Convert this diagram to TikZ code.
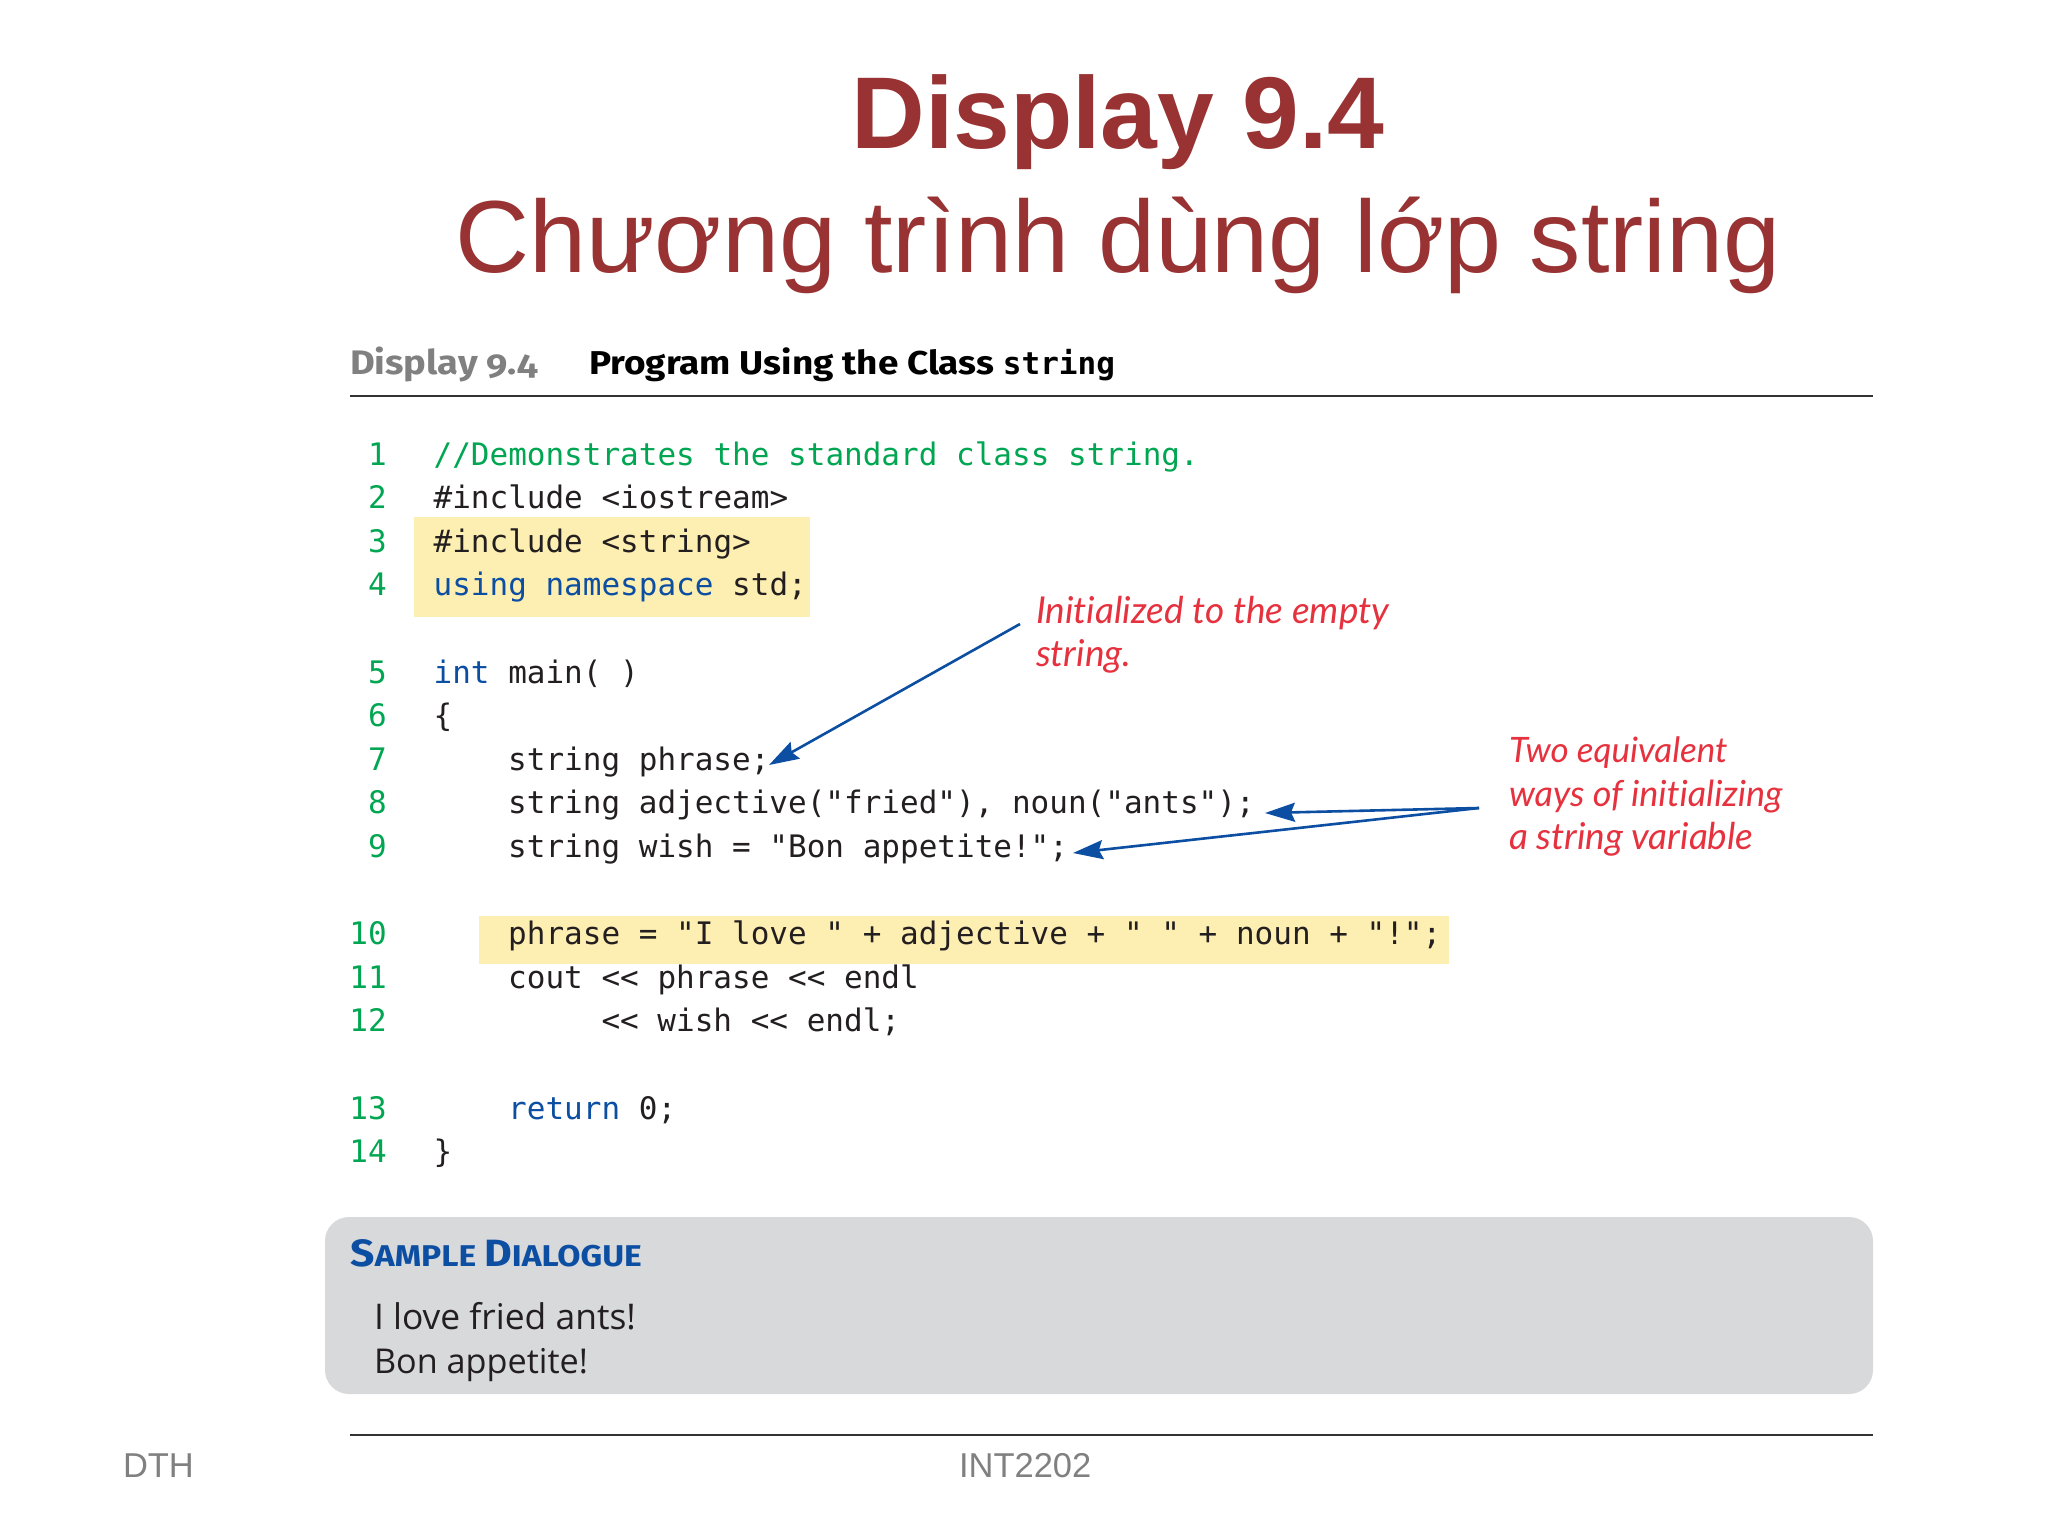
\documentclass[tikz,border=0pt]{standalone}
\usepackage{fontspec}
\usetikzlibrary{arrows.meta}
\setmainfont{Liberation Sans}
\newfontfamily\codef{DejaVu Sans Mono}
\newfontfamily\headf[FakeStretch=1.12,Numbers=OldStyle]{Fira Sans}
\newfontfamily\dlgf{Open Sans}
\newfontfamily\notef[Ligatures=NoCommon]{Lato}
\definecolor{titlered}{HTML}{993333}
\definecolor{grn}{HTML}{00A651}
\definecolor{kwblue}{HTML}{0B4EA2}
\definecolor{hl}{HTML}{FDEEB2}
\definecolor{notered}{HTML}{E5323E}
\definecolor{boxgray}{HTML}{D8D9DB}
\definecolor{codeblk}{HTML}{231F20}
\newcommand{\kw}[1]{\textcolor{kwblue}{#1}}
\tikzset{
  txt/.style={anchor=base west,inner sep=0pt,outer sep=0pt,text depth=0pt},
  title1/.style={anchor=base,inner sep=0pt,text=titlered,font=\fontsize{102}{102}\selectfont\bfseries},
  title2/.style={anchor=base,inner sep=0pt,text=titlered,font=\fontsize{102.5}{102.5}\selectfont},
  code/.style={txt,text=codeblk,font=\codef\fontsize{31}{31}\selectfont},
  num/.style={anchor=base east,inner sep=0pt,text=grn,font=\codef\fontsize{31}{31}\selectfont},
  note/.style={txt,text=notered,font=\notef\itshape\fontsize{#1}{#1}\selectfont},
  rulel/.style={draw=black!80,line width=2.7pt},
  arr/.style={draw=kwblue,line width=2.6pt,-{Stealth[length=30pt,width=19pt,inset=4pt]}},
  dlg/.style={txt,text=codeblk,font=\dlgf\fontsize{#1}{#1}\selectfont},
  foot/.style={txt,text=black!50,font=\fontsize{34.5}{34.5}\selectfont},
}
\begin{document}
\begin{tikzpicture}[x=1pt,y=-1pt]
\useasboundingbox (0,0) rectangle (2048,1536);
\fill[white] (0,0) rectangle (2048,1536);
\node[title1] (t1) at (1118,149) {Display 9.4};
\node[title2] (t2) at (1118,272) {Chương trình dùng lớp string};
\node[txt,text=black!50,font=\headf\bfseries\fontsize{34}{34}\selectfont] (hd) at (350,374) {Display 9.4};
\node[txt,text=black,font=\headf\bfseries\fontsize{33}{33}\selectfont] (hp) at (589,374) {Program Using the Class {\codef\fontsize{31}{31}\selectfont string}};
\coordinate (r1a) at (350,396); \coordinate (r1b) at (1873,396);
\draw[rulel] (r1a) -- (r1b);
\fill[hl] (414,517) rectangle (810,617);
\fill[hl] (479,916) rectangle (1449,964);
% line numbers
\foreach \n/\k in {1/0,2/1,3/2,4/3,5/5,6/6,7/7,8/8,9/9,10/11,11/12,12/13,13/15,14/16}{
  \node[num] (n\n) at (387,465+43.6*\k) {\n};
}
\node[code,text=grn] (c1) at (433.6,465) {//Demonstrates the standard class string.};
\node[code] (c2) at (433.6,508.6) {\#include <iostream>};
\node[code] (c3) at (433.6,552.2) {\#include <string>};
\node[code] (c4) at (433.6,595.8) {\kw{using namespace} std;};
\node[code] (c5) at (433.6,683) {\kw{int} main( )};
\node[code] (c6) at (433.6,726.6) {\{};
\node[code] (c7) at (508.2,770.2) {string phrase;};
\node[code] (c8) at (508.2,813.8) {string adjective("fried"), noun("ants");};
\node[code] (c9) at (508.2,857.4) {string wish = "Bon appetite!";};
\node[code] (c10) at (508.2,944.6) {phrase = "I love " + adjective + " " + noun + "!";};
\node[code] (c11) at (508.2,988.2) {cout << phrase << endl};
\node[code] (c12) at (601.5,1031.8) {<< wish << endl;};
\node[code] (c13) at (508.2,1119) {\kw{return} 0;};
\node[code] (c14) at (433.6,1162.6) {\}};
% notes
\node[note=37] (na) at (1036,623) {Initialized to the empty};
\node[note=37] (nb) at (1036,666) {string.};
\node[note=35] (nc) at (1509,762) {Two equivalent};
\node[note=36] (nd) at (1509,806) {ways of initializing};
\node[note=37] (ne) at (1509,849) {a string variable};
% arrows
\coordinate (a1s) at (1020,624); \coordinate (a1t) at (769,765);
\coordinate (a2s) at (1479,808); \coordinate (a2t) at (1265,813); \coordinate (a3t) at (1073,853);
\draw[arr] (a1s) -- (a1t);
\draw[arr] (a2s) -- (a2t);
\draw[arr] (a2s) -- (a3t);
% dialogue
\fill[boxgray,rounded corners=24pt] (325,1217) rectangle (1873,1394);
\node[txt,text=kwblue,font=\headf\bfseries] (sd) at (350.6,1266)
  {\fontsize{38}{38}\selectfont S\fontsize{30}{30}\selectfont AMPLE \fontsize{38}{38}\selectfont D\fontsize{30}{30}\selectfont IALOGUE};
\node[dlg=35.4] (d1) at (374,1329) {I love fried ants!};
\node[dlg=34.2] (d2) at (374,1373) {Bon appetite!};
\coordinate (r2a) at (350,1435); \coordinate (r2b) at (1873,1435);
\draw[rulel] (r2a) -- (r2b);
\node[foot] (f1) at (123,1477) {DTH};
\node[foot] (f2) at (959,1477) {INT2202};
\end{tikzpicture}
\end{document}
